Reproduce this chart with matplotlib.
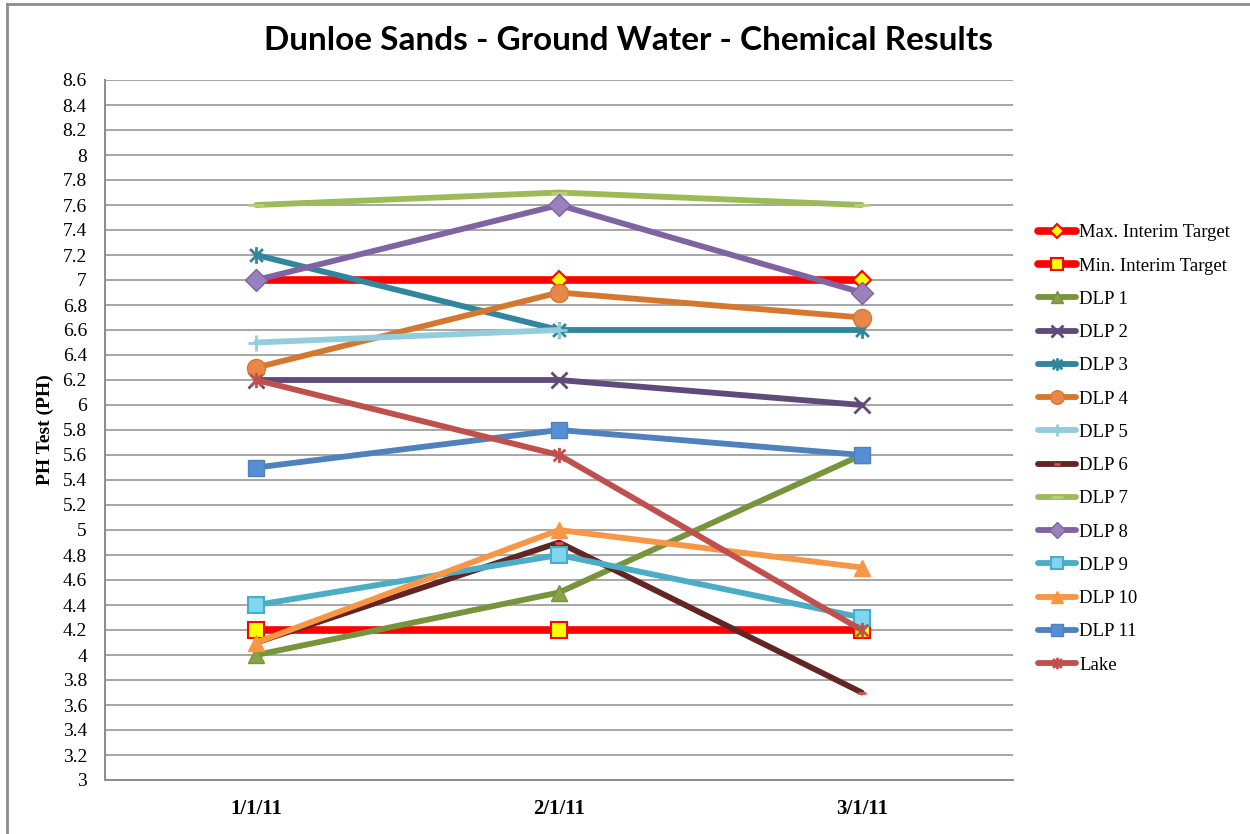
import matplotlib
matplotlib.use("Agg")
import matplotlib.pyplot as plt
from matplotlib.lines import Line2D
from matplotlib.path import Path
import numpy as np

# ---- data -------------------------------------------------------------
dates = ["1/1/11", "2/1/11", "3/1/11"]

max_interim_target = [7.0, 7.0, 7.0]
min_interim_target = [4.2, 4.2, 4.2]
dlp1 = [4.0, 4.5, 5.6]
dlp2 = [6.2, 6.2, 6.0]
dlp3 = [7.2, 6.6, 6.6]
dlp4 = [6.3, 6.9, 6.7]
dlp5 = [6.5, 6.6, np.nan]
dlp6 = [4.1, 4.9, 3.7]
dlp7 = [7.6, 7.7, 7.6]
dlp8 = [7.0, 7.6, 6.9]
dlp9 = [4.4, 4.8, 4.3]
dlp10 = [4.1, 5.0, 4.7]
dlp11 = [5.5, 5.8, 5.6]
lake = [6.2, 5.6, 4.2]

y_ticks = [round(3 + 0.2 * i, 1) for i in range(29)]

# ---- styling ----------------------------------------------------------
SERIF = ["Liberation Serif", "DejaVu Serif"]
plt.rcParams["font.family"] = SERIF

# Excel-style star marker: an "x" with a vertical stroke
star_path = Path(
    [(-1, -1), (1, 1), (-1, 1), (1, -1), (0, -1.3), (0, 1.3)],
    [Path.MOVETO, Path.LINETO, Path.MOVETO, Path.LINETO, Path.MOVETO, Path.LINETO],
)

series = [
    ("Max. Interim Target", max_interim_target, dict(color="#FF0000", lw=5.5, marker="D", ms=9,
                                                      mfc="#FFFF00", mec="#FF0000", mew=1.5)),
    ("Min. Interim Target", min_interim_target, dict(color="#FF0000", lw=5.5, marker="s", ms=11,
                                                      mfc="#FFFF00", mec="#FF0000", mew=1.5)),
    ("DLP 1", dlp1, dict(color="#77933C", lw=4.2, marker="^", ms=12, mfc="#86A24A", mec="#77933C", mew=1)),
    ("DLP 2", dlp2, dict(color="#604A7B", lw=4.2, marker="x", ms=12, mec="#604A7B", mew=2)),
    ("DLP 3", dlp3, dict(color="#31859C", lw=4.2, marker=star_path, ms=12, mec="#31859C", mew=2)),
    ("DLP 4", dlp4, dict(color="#D4782F", lw=4.2, marker="o", ms=13, mfc="#E8874A", mec="#D4782F", mew=1)),
    ("DLP 5", dlp5, dict(color="#93CDDD", lw=4.2, marker="+", ms=12, mec="#93CDDD", mew=2)),
    ("DLP 6", dlp6, dict(color="#632523", lw=4.2, marker="_", ms=6, mec="#E05050", mew=2)),
    ("DLP 7", dlp7, dict(color="#9BBB59", lw=4.2, marker="_", ms=12, mec="#B5D07A", mew=2)),
    ("DLP 8", dlp8, dict(color="#8064A2", lw=4.2, marker="D", ms=11, mfc="#9A80BC", mec="#8064A2", mew=1)),
    ("DLP 9", dlp9, dict(color="#4BACC6", lw=4.2, marker="s", ms=11, mfc="#7FD6EE", mec="#4BACC6", mew=1.5)),
    ("DLP 10", dlp10, dict(color="#F79646", lw=4.2, marker="^", ms=12, mfc="#F79646", mec="#F79646", mew=1)),
    ("DLP 11", dlp11, dict(color="#4F81BD", lw=4.2, marker="s", ms=12, mfc="#558ED5", mec="#4F81BD", mew=1)),
    ("Lake", lake, dict(color="#C0504D", lw=4.2, marker=star_path, ms=11, mec="#C0504D", mew=2)),
]

fig = plt.figure(figsize=(12.5, 8.34), dpi=100)
ax = fig.add_axes([105 / 1250, 1 - 780 / 834, 908 / 1250, 700 / 834])

x = np.arange(len(dates))
handles = []
for i, (name, vals, st) in enumerate(series):
    ln, = ax.plot(x, vals, label=name, solid_capstyle="round", solid_joinstyle="round",
                  zorder=3 + i, **st)
    handles.append(ln)

ax.set_xlim(-0.5, len(dates) - 0.5)
ax.set_ylim(3, 8.6)
ax.set_yticks(y_ticks)
ax.set_yticklabels([f"{v:g}" for v in y_ticks], fontsize=14)
ax.set_xticks(x)
ax.set_xticklabels(dates, fontsize=15, fontweight="bold")
ax.tick_params(axis="both", length=0)
ax.tick_params(axis="y", pad=13)
ax.tick_params(axis="x", pad=14)
ax.grid(axis="y", color="#A6A6A6", lw=1.4, zorder=0)
ax.set_axisbelow(True)
for side in ("top", "right"):
    ax.spines[side].set_visible(False)
for side in ("left", "bottom"):
    ax.spines[side].set_color("#8C8C8C")
    ax.spines[side].set_linewidth(1.4)

ax.set_ylabel("PH Test (PH)", fontsize=14, fontweight="bold", labelpad=6)

fig.text(629 / 1250, 1 - 40 / 834, "Dunloe Sands - Ground Water - Chemical Results",
         ha="center", va="center", fontsize=24, fontweight="bold", family=["Lato", "DejaVu Sans"])

leg = fig.legend(handles=handles, loc="center left", bbox_to_anchor=(1038 / 1250, 1 - 449 / 834),
                 frameon=False, fontsize=13.5, handlelength=2.0, handletextpad=0.2,
                 labelspacing=0.86, numpoints=1, markerscale=0.75, borderaxespad=0, borderpad=0)

# outer chart frame
fig.add_artist(Line2D([7 / 1250, 1.0], [1 - 4 / 834, 1 - 4 / 834], transform=fig.transFigure,
                      color="#8C8C8C", lw=2))
fig.add_artist(Line2D([7 / 1250, 7 / 1250], [0.0, 1 - 4 / 834], transform=fig.transFigure,
                      color="#8C8C8C", lw=2))

fig.savefig("out.png", dpi=100, facecolor="white")
